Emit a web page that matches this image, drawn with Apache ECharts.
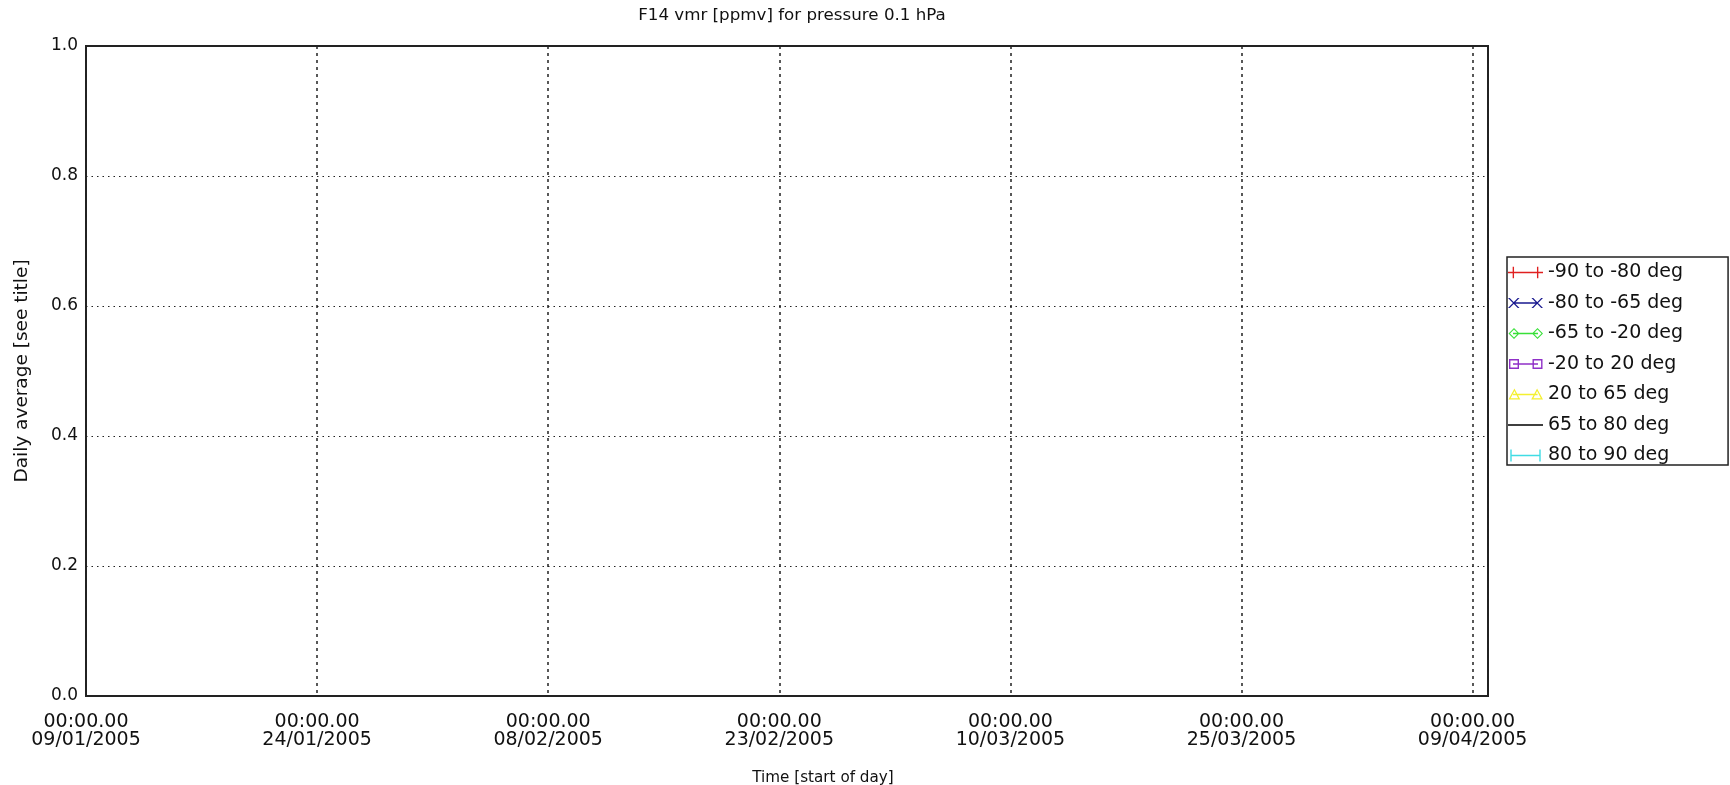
<!DOCTYPE html>
<html>
<head>
<meta charset="utf-8">
<script src="https://cdn.jsdelivr.net/npm/echarts@6/dist/echarts.min.js"></script>
<style>
html,body{margin:0;padding:0;background:#fff;}
#chart{width:1730px;height:785px;}
</style>
</head>
<body>
<div id="chart"></div>
<script>
// ---- data (the reference plot contains no data points) ----
const titleText = 'F14 vmr [ppmv] for pressure 0.1 hPa';
const xAxisTitle = 'Time [start of day]';
const yAxisTitle = 'Daily average [see title]';
// x axis in days since 09/01/2005
const xMin = 0;
const xMax = 91;
const xStep = 15;
const xTickTimes = ['00:00.00','00:00.00','00:00.00','00:00.00','00:00.00','00:00.00','00:00.00'];
const xTickDates = ['09/01/2005','24/01/2005','08/02/2005','23/02/2005','10/03/2005','25/03/2005','09/04/2005'];
const yMin = 0;
const yMax = 1.0;
const yStep = 0.2;
const seriesNames = ['-90 to -80 deg','-80 to -65 deg','-65 to -20 deg','-20 to 20 deg','20 to 65 deg','65 to 80 deg','80 to 90 deg'];
const seriesColors = ['#e02020','#1a1a90','#38e038','#9030c8','#f4f030','#000000','#40dce4'];
const seriesData = [[],[],[],[],[],[],[]];

// legend icons (35 x 16 box): line plus markers at both ends
const W = 35, H = 16, cy = 8, t = 0.7;
function rect(x0,y0,x1,y1){return `M${x0} ${y0}L${x1} ${y0}L${x1} ${y1}L${x0} ${y1}Z`;}
function rectR(x0,y0,x1,y1){return `M${x0} ${y0}L${x0} ${y1}L${x1} ${y1}L${x1} ${y0}Z`;}
const anchor = `M0 0L0.01 0L0 0.01ZM${W} ${H}L${W-0.01} ${H}L${W} ${H-0.01}Z`;
function line(x0,x1){return rect(x0,cy-t,x1,cy+t);}
function plus(x){return rect(x-t,cy-6,x+t,cy+6)+rect(x-5.5,cy-t,x+5.5,cy+t);}
function cross(x){const s=5,d=0.9;return `M${x-s-d} ${cy-s}L${x-s+d} ${cy-s}L${x+s+d} ${cy+s}L${x+s-d} ${cy+s}Z`+`M${x+s-d} ${cy-s}L${x+s+d} ${cy-s}L${x-s+d} ${cy+s}L${x-s-d} ${cy+s}Z`;}
function diamond(x){const a=5.5,b=4;return `M${x} ${cy-a}L${x+a} ${cy}L${x} ${cy+a}L${x-a} ${cy}Z`+`M${x} ${cy-b}L${x-b} ${cy}L${x} ${cy+b}L${x+b} ${cy}Z`;}
function square(x){return rect(x-5,cy-5,x+5,cy+5)+rectR(x-3.6,cy-3.6,x+3.6,cy+3.6);}
function tri(x){return `M${x} ${cy-6}L${x+6} ${cy+5}L${x-6} ${cy+5}Z`+`M${x} ${cy-3.5}L${x-3.8} ${cy+3.7}L${x+3.8} ${cy+3.7}Z`;}
function bar(x){return rect(x-t,cy-6,x+t,cy+6);}
const icons = [
  anchor+line(0,35)+plus(4.5)+plus(29.5),
  anchor+line(5,30)+cross(5.5)+cross(29.5),
  anchor+line(5,30)+diamond(6)+diamond(29.5),
  anchor+line(5,30)+square(6)+square(29.5),
  anchor+line(5,30)+tri(6.5)+tri(29.5),
  anchor+line(0,35),
  anchor+line(3,32)+bar(3)+bar(32)
].map(p=>'path://'+p);

const FONT = 'DejaVu Sans';
const chart = echarts.init(document.getElementById('chart'), null, {renderer:'canvas'});
const option = {
  backgroundColor:'#ffffff',
  animation:false,
  title:{text:titleText,left:787,textAlign:'center',top:2,
    textStyle:{fontFamily:FONT,fontSize:16.7,fontWeight:'normal',color:'#111'}},
  grid:{left:86,right:242,top:46,bottom:89,outerBoundsMode:'none',containLabel:false,
    show:true,borderColor:'#222',borderWidth:2,backgroundColor:'transparent'},
  legend:{
    orient:'vertical',left:1507,top:257,
    data:seriesNames.map((n,i)=>({name:n,icon:icons[i]})),
    itemWidth:35,itemHeight:16,itemGap:11.5,
    padding:[6,45,0,1],
    borderColor:'#222',borderWidth:1.5,
    textStyle:{fontFamily:FONT,fontSize:19,color:'#111',lineHeight:18},
    selectedMode:false
  },
  xAxis:{
    type:'value',min:xMin,max:xMax,interval:xStep,
    name:xAxisTitle,nameLocation:'middle',nameGap:75,
    nameTextStyle:{fontFamily:FONT,fontSize:15.2,color:'#111',padding:[0,0,0,72]},
    axisLine:{show:false},axisTick:{show:false},
    axisLabel:{fontFamily:FONT,fontSize:19,color:'#111',lineHeight:18,margin:17,
      formatter:function(v){const i=Math.round(v/xStep); if(Math.abs(v-i*xStep)>1e-6||i>=xTickDates.length) return ''; return xTickTimes[i]+'\n'+xTickDates[i];}},
    splitLine:{show:true,lineStyle:{color:'#222',width:1.5,type:[3,4]}}
  },
  yAxis:{
    type:'value',min:yMin,max:yMax,interval:yStep,
    name:yAxisTitle,nameLocation:'middle',nameGap:54,
    nameTextStyle:{fontFamily:FONT,fontSize:18.5,color:'#111'},
    axisLine:{show:false},axisTick:{show:false},
    axisLabel:{fontFamily:FONT,fontSize:17,color:'#111',margin:8,formatter:v=>v.toFixed(1)},
    splitLine:{show:true,lineStyle:{color:'#222',width:1.2,type:[1.5,4]}}
  },
  series:seriesNames.map((n,i)=>({
    name:n,type:'line',data:seriesData[i],
    itemStyle:{color:seriesColors[i]},lineStyle:{color:seriesColors[i]},
    showSymbol:false
  }))
};
chart.setOption(option);
</script>
</body>
</html>
